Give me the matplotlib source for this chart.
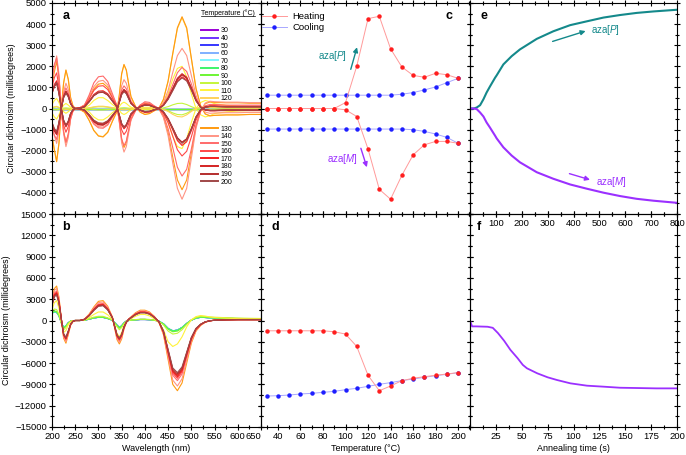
# Six-panel CD figure: spectra (a, b), temperature scans (c, d), annealing (e, f).

import matplotlib
matplotlib.use('Agg')
import numpy as np
import matplotlib.pyplot as plt
from matplotlib.lines import Line2D
from matplotlib.ticker import MultipleLocator

plt.rcParams['font.family'] = ['Liberation Sans', 'DejaVu Sans']
plt.rcParams['mathtext.fontset'] = 'custom'
plt.rcParams['mathtext.rm'] = 'Liberation Sans'
plt.rcParams['mathtext.it'] = 'Liberation Sans:italic'
plt.rcParams['axes.linewidth'] = 0.8
plt.rcParams['axes.labelsize'] = 6.5

# ---- data -------------------------------------------------------------
temps = [30, 40, 50, 60, 70, 80, 90, 100, 110, 120,
         130, 140, 150, 160, 170, 180, 190, 200]
temp_colors = ['#9A00D6', '#6E33FF', '#3636FF', '#7FB0FF', '#7FF5FF',
               '#3CF56A', '#6CF533', '#C4F53A', '#FFF23A', '#FFD25A',
               '#FF9A10', '#FF9484', '#FF6A6A', '#FF4646', '#F51E1E',
               '#D42424', '#B42E2E', '#A04848']

wavelength = [200, 205, 210, 215, 220, 225, 230, 235, 240, 245, 250,
              260, 270, 280, 290, 300, 310, 320, 330, 340,
              345, 350, 355, 360, 365, 370,
              380, 390, 400, 410, 420, 430, 440, 450, 460, 470, 480,
              490, 500, 510, 520, 530, 540, 550,
              575, 600, 625, 650]

# panel a: spectral shapes (value at 480 nm = 1)
a_shape_early = [-0.10, -0.20, -0.25, -0.15, 0.0, 0.08, 0.12, 0.08, 0.03, 0.01, 0.0,
                 0.0, -0.02, -0.08, -0.20, -0.27, -0.27, -0.20, -0.10, -0.02,
                 0.05, 0.12, 0.15, 0.12, 0.07, 0.03,
                 0.0, -0.02, -0.03, -0.03, -0.01, 0.0, 0.12, 0.35, 0.70, 0.95, 1.0,
                 0.75, 0.35, 0.0, -0.15, -0.20, -0.17, -0.12,
                 -0.08, -0.06, -0.05, -0.05]
a_shape_peak = [-0.30, -0.45, -0.58, -0.38, 0.0, 0.28, 0.42, 0.32, 0.12, 0.03, 0.0,
                -0.01, -0.04, -0.13, -0.24, -0.30, -0.31, -0.26, -0.14, -0.03,
                0.15, 0.38, 0.48, 0.42, 0.27, 0.13,
                0.02, -0.04, -0.065, -0.055, -0.025, 0.0, 0.10, 0.30, 0.60, 0.88, 1.0,
                0.88, 0.55, 0.22, 0.03, -0.06, -0.08, -0.075,
                -0.07, -0.07, -0.065, -0.065]
a_shape_late = [-0.45, -0.65, -0.75, -0.45, 0.0, 0.35, 0.50, 0.38, 0.15, 0.04, 0.0,
                -0.01, -0.05, -0.20, -0.38, -0.47, -0.48, -0.40, -0.22, -0.04,
                0.20, 0.45, 0.55, 0.48, 0.32, 0.16,
                0.03, -0.05, -0.10, -0.09, -0.04, 0.0, 0.10, 0.30, 0.58, 0.87, 1.0,
                0.90, 0.60, 0.25, 0.04, -0.04, -0.06, -0.06,
                -0.05, -0.05, -0.05, -0.05]
a_peak_P = [0, 0, 0, 0, 0, 0, 0, 250, 2000, 4300,
            4350, 2850, 1950, 1600, 1500, 1650, 1600, 1450]
a_peak_M = [0, 0, 0, 0, 0, 0, 0, -300, -1900, -400,
            -3850, -4300, -3200, -2250, -1750, -1600, -1600, -1650]
a_key_P = ['early'] * 9 + ['peak'] * 3 + ['late'] * 6
a_key_M = ['early'] * 10 + ['peak'] * 2 + ['late'] * 6

# panel b: three spectra (millidegrees)
b_low = [1100, 1300, 1250, 700, -300, -1050, -800, -350, -100, -20, 0,
         0, 50, 200, 380, 480, 470, 300, 50, -700,
         -1050, -800, -350, -100, 0, 50,
         100, 150, 150, 120, 50, -100, -500, -1200, -1540, -1450, -1050,
         -450, 50, 350, 480, 450, 400, 370,
         320, 280, 250, 230]
b_mid = [1500, 2500, 2800, 1700, -300, -1700, -1400, -600, -150, -30, 0,
         0, 100, 400, 850, 1200, 1200, 800, 150, -1800,
         -2300, -1700, -700, -200, 100, 250,
         600, 850, 850, 650, 250, -300, -1300, -3000, -3660, -3300, -2300,
         -900, 100, 550, 700, 620, 500, 420,
         330, 270, 230, 200]
b_high = [2800, 4500, 4850, 3300, 300, -2500, -3200, -2000, -700, -150, 0,
          0, 200, 900, 1900, 2700, 2800, 2000, 500, -2700,
          -3300, -2600, -1200, -300, 200, 500,
          1100, 1450, 1450, 1200, 600, -200, -2000, -5500, -9000, -9890, -8800,
          -6000, -3200, -1500, -700, -250, -50, 50,
          120, 150, 150, 150]
b_key = ['low'] * 8 + ['mid'] + ['high'] * 9

# panel c: CD at 480 nm on heating / cooling
heat_P = [0, 0, 0, 0, 0, 0, 0, 280, 2010, 4260,
          4370, 2830, 1970, 1570, 1480, 1670, 1600, 1430]
heat_M = [0, 0, 0, 0, 0, 0, 0, -60, -380, -1920,
          -3830, -4300, -3170, -2200, -1720, -1560, -1560, -1650]
cool_P = [630, 630, 630, 630, 630, 630, 630, 630, 630, 630,
          630, 630, 676, 755, 880, 1022, 1226, 1431]
cool_M = [-975, -975, -975, -975, -975, -975, -975, -975, -975, -975,
          -975, -975, -975, -1006, -1085, -1210, -1370, -1650]

# panel d
heat_d = [-1450, -1450, -1450, -1450, -1450, -1450, -1585, -1910, -3660, -7720,
          -9890, -9226, -8470, -8140, -7910, -7720, -7530, -7340]
cool_d = [-10640, -10590, -10500, -10350, -10260, -10120, -9980, -9740, -9550,
          -9270, -8990, -8750, -8470, -8240, -8000, -7770, -7580, -7340]

# panel e: annealing
e_time_P = [0, 15, 26, 39, 52, 64, 77, 97, 103, 129, 161, 193, 258, 322,
            387, 451, 516, 580, 644, 709, 800]
e_cd_P = [0, 0, 47, 156, 440, 755, 1040, 1460, 1570, 2090, 2480, 2800, 3300,
          3660, 3950, 4130, 4310, 4430, 4530, 4600, 4680]
e_time_M = [0, 15, 26, 39, 52, 64, 77, 97, 103, 129, 161, 193, 258, 322,
            387, 451, 516, 580, 644, 709, 800]
e_cd_M = [0, 0, -30, -190, -380, -660, -900, -1290, -1415, -1840, -2230,
          -2550, -3020, -3330, -3600, -3800, -3990, -4150, -4280, -4370, -4470]

# panel f
f_time = [0, 2, 6, 17, 22, 27, 33, 39, 46, 51, 55, 65, 75, 84, 97,
          113, 129, 145, 161, 180, 200]
f_cd = [0, -830, -830, -880, -1030, -1770, -2860, -4130, -5310, -6250, -6730,
        -7440, -8000, -8380, -8850, -9180, -9320, -9470, -9510, -9560, -9560]

teal = '#14898B'
violet = '#9B30FF'
heat_line, heat_dot = '#FF9A9A', '#FF1E1E'
cool_line, cool_dot = '#A8A8FF', '#1E1EFF'

# ---- layout -----------------------------------------------------------
W, H = 686, 455
fig = plt.figure(figsize=(W / 100, H / 100), dpi=100)


def box(x0, y0, x1, y1):
    return [x0 / W, 1 - y1 / H, (x1 - x0) / W, (y1 - y0) / H]


ax_a = fig.add_axes(box(52, 3, 261, 214))
ax_c = fig.add_axes(box(261, 3, 470, 214))
ax_e = fig.add_axes(box(470, 3, 677, 214))
ax_b = fig.add_axes(box(52, 214, 261, 427))
ax_d = fig.add_axes(box(261, 214, 470, 427))
ax_f = fig.add_axes(box(470, 214, 677, 427))


def style(ax):
    ax.patch.set_visible(False)
    ax.tick_params(which='both', direction='inout', top=True, right=True,
                   width=0.8, labelsize=6.8, pad=1.2)
    ax.tick_params(which='major', length=5)
    ax.tick_params(which='minor', length=3)


def num(v):
    return str(int(v)).replace('-', '\u2212')


for ax in (ax_a, ax_b, ax_c, ax_d, ax_e, ax_f):
    style(ax)
ax_e.set_zorder(3)

# ---- a ------------------------------------------------------------------
a_shapes = {'early': a_shape_early, 'peak': a_shape_peak, 'late': a_shape_late}
for i, t in enumerate(temps):
    ax_a.plot(wavelength, np.array(a_shapes[a_key_P[i]]) * a_peak_P[i],
              color=temp_colors[i], lw=0.8)
    ax_a.plot(wavelength, np.array(a_shapes[a_key_M[i]]) * a_peak_M[i],
              color=temp_colors[i], lw=0.8)
ax_a.set_xlim(200, 650)
ax_a.set_ylim(-5000, 5000)
ax_a.set_xticks(range(200, 651, 50))
ax_a.xaxis.set_minor_locator(MultipleLocator(25))
ax_a.tick_params(labelbottom=False)
a_yt = list(range(-5000, 5001, 1000))
ax_a.set_yticks(a_yt)
ax_a.set_yticklabels(['' if v == -5000 else num(v) for v in a_yt])
ax_a.yaxis.set_minor_locator(MultipleLocator(500))
ax_a.set_ylabel('Circular dichroism (millidegrees)', labelpad=3)
ax_a.text(0.05, 0.965, 'a', transform=ax_a.transAxes, fontsize=9,
          fontweight='bold', va='top')

handles = []
for t, col in zip(temps, temp_colors):
    handles.append(Line2D([], [], color=col, lw=1.4, label=str(t)))
    if t == 120:
        handles += [Line2D([], [], color='none', label=' ') for _ in range(3)]
leg = ax_a.legend(handles=handles, loc='upper left',
                  bbox_to_anchor=(0.713, 0.884), frameon=False, fontsize=5,
                  handlelength=2.4, handletextpad=0.45, labelspacing=0.08,
                  borderpad=0, borderaxespad=0)
leg_title = ax_a.text(0.713, 0.953, 'Temperature (\u00b0C)', fontsize=5,
                      transform=ax_a.transAxes, va='center')

# ---- b ------------------------------------------------------------------
b_shapes = {'low': b_low, 'mid': b_mid, 'high': b_high}
for i, t in enumerate(temps):
    shp = np.array(b_shapes[b_key[i]], dtype=float)
    ax_b.plot(wavelength, shp * heat_d[i] / shp.min(),
              color=temp_colors[i], lw=0.8)
ax_b.set_xlim(200, 650)
ax_b.set_ylim(-15000, 15000)
b_xt = list(range(200, 651, 50))
ax_b.set_xticks(b_xt)
ax_b.set_xticklabels([str(v) for v in b_xt])
ax_b.get_xticklabels()[-1].set_horizontalalignment('right')
ax_b.xaxis.set_minor_locator(MultipleLocator(25))
b_yt = list(range(-15000, 15001, 3000))
ax_b.set_yticks(b_yt)
ax_b.set_yticklabels([num(v) for v in b_yt])
ax_b.yaxis.set_minor_locator(MultipleLocator(1500))
ax_b.set_xlabel('Wavelength (nm)', labelpad=2)
ax_b.set_ylabel('Circular dichroism (millidegrees)', labelpad=3)
ax_b.text(0.05, 0.965, 'b', transform=ax_b.transAxes, fontsize=9,
          fontweight='bold', va='top')

# ---- c ------------------------------------------------------------------
mk = dict(marker='o', ms=2.2, lw=0.7)
ax_c.plot(temps, cool_P, color=cool_line, mfc=cool_dot, mec=cool_dot, **mk)
ax_c.plot(temps, cool_M, color=cool_line, mfc=cool_dot, mec=cool_dot, **mk)
ax_c.plot(temps, heat_P, color=heat_line, mfc=heat_dot, mec=heat_dot, **mk)
ax_c.plot(temps, heat_M, color=heat_line, mfc=heat_dot, mec=heat_dot, **mk)
ax_c.set_xlim(25, 210.5)
ax_c.set_ylim(-5000, 5000)
ax_c.set_xticks(range(40, 201, 20))
ax_c.xaxis.set_minor_locator(MultipleLocator(10))
ax_c.set_yticks(a_yt)
ax_c.yaxis.set_minor_locator(MultipleLocator(500))
ax_c.tick_params(labelbottom=False, labelleft=False)
h_heat = Line2D([], [], color=heat_line, mfc=heat_dot, mec=heat_dot, **mk)
h_cool = Line2D([], [], color=cool_line, mfc=cool_dot, mec=cool_dot, **mk)
ax_c.legend([h_heat, h_cool], ['Heating', 'Cooling'], loc='upper left',
            bbox_to_anchor=(0.0, 0.962), frameon=False, fontsize=6.8,
            handlelength=2.6, handletextpad=0.6, labelspacing=0.2,
            borderpad=0.1, borderaxespad=0)
ax_c.annotate('', xy=(110.9, 3030), xytext=(104, 1730),
              arrowprops=dict(arrowstyle='-|>', color=teal, lw=1.0,
                              mutation_scale=7))
ax_c.text(101.4, 2470, 'aza[$P$]', color=teal, fontsize=7, ha='right',
          va='center')
ax_c.annotate('', xy=(119.7, -2910), xytext=(112.9, -1760),
              arrowprops=dict(arrowstyle='-|>', color=violet, lw=1.0,
                              mutation_scale=7))
ax_c.text(111.1, -2390, 'aza[$M$]', color=violet, fontsize=7, ha='right',
          va='center')
ax_c.text(0.914, 0.965, 'c', transform=ax_c.transAxes, fontsize=9,
          fontweight='bold', va='top', ha='right')

# ---- d ------------------------------------------------------------------
ax_d.plot(temps, cool_d, color=cool_line, mfc=cool_dot, mec=cool_dot, **mk)
ax_d.plot(temps, heat_d, color=heat_line, mfc=heat_dot, mec=heat_dot, **mk)
ax_d.set_xlim(25, 210.5)
ax_d.set_ylim(-15000, 15000)
ax_d.set_xticks(range(40, 201, 20))
ax_d.xaxis.set_minor_locator(MultipleLocator(10))
ax_d.set_yticks(b_yt)
ax_d.yaxis.set_minor_locator(MultipleLocator(1500))
ax_d.tick_params(labelleft=False)
ax_d.set_xlabel('Temperature (\u00b0C)', labelpad=2)
ax_d.text(0.05, 0.965, 'd', transform=ax_d.transAxes, fontsize=9,
          fontweight='bold', va='top')

# ---- e ------------------------------------------------------------------
ax_e.plot(e_time_P, e_cd_P, color=teal, lw=1.5)
ax_e.plot(e_time_M, e_cd_M, color=violet, lw=1.5)
ax_e.set_xlim(0, 800)
ax_e.set_ylim(-5000, 5000)
e_xt = list(range(0, 801, 100))
ax_e.set_xticks(e_xt)
ax_e.set_xticklabels(['' if v == 0 else str(v) for v in e_xt])
ax_e.xaxis.set_minor_locator(MultipleLocator(50))
ax_e.set_yticks(a_yt)
ax_e.yaxis.set_minor_locator(MultipleLocator(500))
ax_e.tick_params(labelleft=False)
ax_e.annotate('', xy=(457, 3710), xytext=(309, 3140),
              arrowprops=dict(arrowstyle='-|>', color=teal, lw=1.0,
                              mutation_scale=7))
ax_e.text(467, 3740, 'aza[$P$]', color=teal, fontsize=7, va='center')
ax_e.annotate('', xy=(474, -3415), xytext=(374, -3050),
              arrowprops=dict(arrowstyle='-|>', color=violet, lw=1.0,
                              mutation_scale=7))
ax_e.text(487, -3490, 'aza[$M$]', color=violet, fontsize=7, va='center')
ax_e.text(0.053, 0.965, 'e', transform=ax_e.transAxes, fontsize=9,
          fontweight='bold', va='top')

# ---- f ------------------------------------------------------------------
ax_f.plot(f_time, f_cd, color=violet, lw=1.3)
ax_f.set_xlim(0, 200)
ax_f.set_ylim(-15000, 15000)
f_xt = [0, 25, 50, 75, 100, 125, 150, 175, 200]
ax_f.set_xticks(f_xt)
ax_f.set_xticklabels(['' if v == 0 else str(v) for v in f_xt])
ax_f.xaxis.set_minor_locator(MultipleLocator(12.5))
ax_f.set_yticks(b_yt)
ax_f.yaxis.set_minor_locator(MultipleLocator(1500))
ax_f.tick_params(labelleft=False)
ax_f.set_xlabel('Annealing time (s)', labelpad=2)
ax_f.text(0.035, 0.965, 'f', transform=ax_f.transAxes, fontsize=9,
          fontweight='bold', va='top')

# underline the legend title of panel a
fig.canvas.draw()
bb = leg_title.get_window_extent(fig.canvas.get_renderer())
inv = fig.transFigure.inverted()
(fx0, fy0), (fx1, _) = inv.transform([(bb.x0, bb.y0), (bb.x1, bb.y0)])
fig.add_artist(Line2D([fx0, fx1], [fy0 + 0.002, fy0 + 0.002],
                      transform=fig.transFigure, color='black', lw=0.5))

fig.savefig('out.png', dpi=100)
